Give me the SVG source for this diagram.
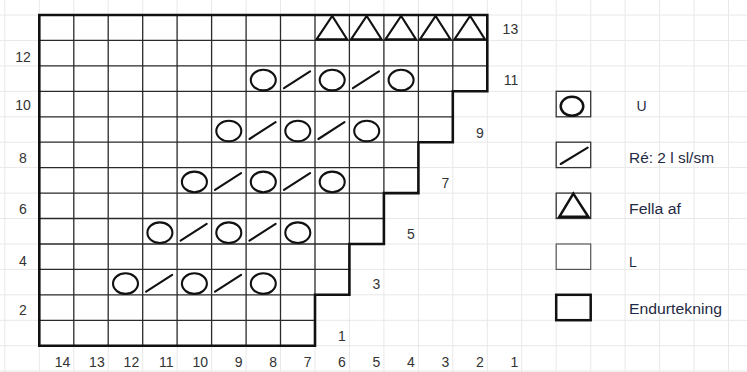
<svg xmlns="http://www.w3.org/2000/svg" xmlns:xlink="http://www.w3.org/1999/xlink" width="747" height="372" viewBox="0 0 747 372">
<style>
.bg{fill:#ffffff}
.faint{stroke:#e8e8e8;stroke-width:1;fill:none}
.thin{stroke:#2a2a2a;stroke-width:1.3;fill:none}
.thick{stroke:#111;stroke-width:2.6;fill:none;stroke-linejoin:miter}
.sym{stroke:#111;stroke-width:2.1;fill:none}
.num{font-family:"Liberation Sans",Arial,sans-serif;font-size:14px;fill:#333}
.leg{font-family:"Liberation Sans",Arial,sans-serif;font-size:14px;fill:#1f2a44}
.lbox{stroke:#333;stroke-width:1.3;fill:#fff}
</style>
<defs>
<g id="yo"><ellipse cx="0" cy="1.5" rx="12.5" ry="10.3" class="sym"/></g>
<g id="k2tog"><line x1="-13.8" y1="9.5" x2="12.3" y2="-7.3" class="sym" stroke-linecap="round"/></g>
<g id="bo"><polygon points="-15.5,11.5 0,-11.7 14.8,11.5" class="sym"/></g>
</defs>
<rect class="bg" x="0" y="0" width="747" height="372"/>
<g id="background-grid">
<path class="faint" d="M4.8 0V372M39.3 0V372M73.8 0V372M108.2 0V372M142.7 0V372M177.1 0V372M211.6 0V372M246.1 0V372M280.5 0V372M315 0V372M349.4 0V372M383.9 0V372M418.4 0V372M452.8 0V372M487.3 0V372M521.7 0V372M556.2 0V372M590.7 0V372M625.1 0V372M659.6 0V372M694 0V372M728.5 0V372M0 15H747M0 40.4H747M0 65.9H747M0 91.3H747M0 116.8H747M0 142.2H747M0 167.6H747M0 193.1H747M0 218.5H747M0 244H747M0 269.4H747M0 294.8H747M0 320.3H747M0 345.7H747M0 371.2H747"/>
</g>
<g id="chart">
<path fill="#fff" d="M39.3 345.7H315V294.8H349.4V244H383.9V193.1H418.4V142.2H452.8V91.3H487.3V15H39.3Z"/>
<path class="thin" d="M73.8 15V345.7M108.2 15V345.7M142.7 15V345.7M177.1 15V345.7M211.6 15V345.7M246.1 15V345.7M280.5 15V345.7M315 15V294.8M349.4 15V244M383.9 15V193.1M418.4 15V142.2M452.8 15V91.3M39.3 320.3H315M39.3 294.8H315M39.3 269.4H349.4M39.3 244H349.4M39.3 218.5H383.9M39.3 193.1H383.9M39.3 167.6H418.4M39.3 142.2H418.4M39.3 116.8H452.8M39.3 91.3H452.8M39.3 65.9H487.3M39.3 40.4H487.3"/>
<path id="repeat-border" class="thick" d="M39.3 345.7H315V294.8H349.4V244H383.9V193.1H418.4V142.2H452.8V91.3H487.3V15H39.3Z"/>
</g>
<g id="row13">
<use xlink:href="#bo" x="332.2" y="27.7"/>
<use xlink:href="#bo" x="366.7" y="27.7"/>
<use xlink:href="#bo" x="401.1" y="27.7"/>
<use xlink:href="#bo" x="435.6" y="27.7"/>
<use xlink:href="#bo" x="470.1" y="27.7"/>
</g>
<g id="row11">
<use xlink:href="#yo" x="263.3" y="78.6"/>
<use xlink:href="#k2tog" x="297.8" y="78.6"/>
<use xlink:href="#yo" x="332.2" y="78.6"/>
<use xlink:href="#k2tog" x="366.7" y="78.6"/>
<use xlink:href="#yo" x="401.1" y="78.6"/>
</g>
<g id="row9">
<use xlink:href="#yo" x="228.8" y="129.5"/>
<use xlink:href="#k2tog" x="263.3" y="129.5"/>
<use xlink:href="#yo" x="297.8" y="129.5"/>
<use xlink:href="#k2tog" x="332.2" y="129.5"/>
<use xlink:href="#yo" x="366.7" y="129.5"/>
</g>
<g id="row7">
<use xlink:href="#yo" x="194.4" y="180.4"/>
<use xlink:href="#k2tog" x="228.8" y="180.4"/>
<use xlink:href="#yo" x="263.3" y="180.4"/>
<use xlink:href="#k2tog" x="297.8" y="180.4"/>
<use xlink:href="#yo" x="332.2" y="180.4"/>
</g>
<g id="row5">
<use xlink:href="#yo" x="159.9" y="231.2"/>
<use xlink:href="#k2tog" x="194.4" y="231.2"/>
<use xlink:href="#yo" x="228.8" y="231.2"/>
<use xlink:href="#k2tog" x="263.3" y="231.2"/>
<use xlink:href="#yo" x="297.8" y="231.2"/>
</g>
<g id="row3">
<use xlink:href="#yo" x="125.5" y="282.1"/>
<use xlink:href="#k2tog" x="159.9" y="282.1"/>
<use xlink:href="#yo" x="194.4" y="282.1"/>
<use xlink:href="#k2tog" x="228.8" y="282.1"/>
<use xlink:href="#yo" x="263.3" y="282.1"/>
</g>
<g id="row-numbers-left" class="num" text-anchor="middle">
<text x="23" y="62.3">12</text>
<text x="23" y="110.3">10</text>
<text x="23" y="163">8</text>
<text x="23" y="214.3">6</text>
<text x="23" y="265.7">4</text>
<text x="23" y="315">2</text>
</g>
<g id="row-numbers-right" class="num" text-anchor="end">
<text x="518.2" y="34.3">13</text>
<text x="518.2" y="85">11</text>
<text x="483.8" y="138">9</text>
<text x="449.3" y="188">7</text>
<text x="414.9" y="239">5</text>
<text x="380.4" y="289">3</text>
<text x="345.9" y="340.7">1</text>
</g>
<g id="column-numbers" class="num" text-anchor="end">
<text x="70.3" y="366.7">14</text>
<text x="104.7" y="366.7">13</text>
<text x="139.2" y="366.7">12</text>
<text x="173.6" y="366.7">11</text>
<text x="208.1" y="366.7">10</text>
<text x="242.6" y="366.7">9</text>
<text x="277" y="366.7">8</text>
<text x="311.5" y="366.7">7</text>
<text x="345.9" y="366.7">6</text>
<text x="380.4" y="366.7">5</text>
<text x="414.9" y="366.7">4</text>
<text x="449.3" y="366.7">3</text>
<text x="483.8" y="366.7">2</text>
<text x="518.2" y="366.7">1</text>
</g>
<g id="legend-u">
<rect class="lbox" x="556.2" y="91.3" width="34.5" height="25.5"/>
<ellipse cx="572" cy="106.3" rx="11.3" ry="9.5" fill="none" stroke="#111" stroke-width="2.5"/>
<text class="leg" x="636.5" y="110.8" font-size="17">U</text>
</g>
<g id="legend-k2tog">
<rect class="lbox" x="556.2" y="142.2" width="34.5" height="25.4"/>
<line x1="560.7" y1="164" x2="587.7" y2="147.7" stroke="#111" stroke-width="2.1" stroke-linecap="round"/>
<text class="leg" x="629" y="163" textLength="85" lengthAdjust="spacingAndGlyphs">Ré: 2 l sl/sm</text>
</g>
<g id="legend-bo">
<rect class="lbox" x="556.2" y="193.1" width="34.5" height="25.4"/>
<polygon points="559.3,216.8 573.3,193.6 588.3,216.8" fill="none" stroke="#111" stroke-width="2.5"/>
<text class="leg" x="629" y="214.3" textLength="52" lengthAdjust="spacingAndGlyphs">Fella af</text>
</g>
<g id="legend-l">
<rect x="556.2" y="244" width="34.5" height="25.4" fill="#fff" stroke="#555" stroke-width="1.2"/>
<text class="leg" x="629" y="266.5">L</text>
</g>
<g id="legend-repeat">
<rect x="556.2" y="294.8" width="34.5" height="25.4" fill="#fff" stroke="#111" stroke-width="2.5"/>
<text class="leg" x="629" y="314" textLength="93" lengthAdjust="spacingAndGlyphs">Endurtekning</text>
</g>
</svg>
